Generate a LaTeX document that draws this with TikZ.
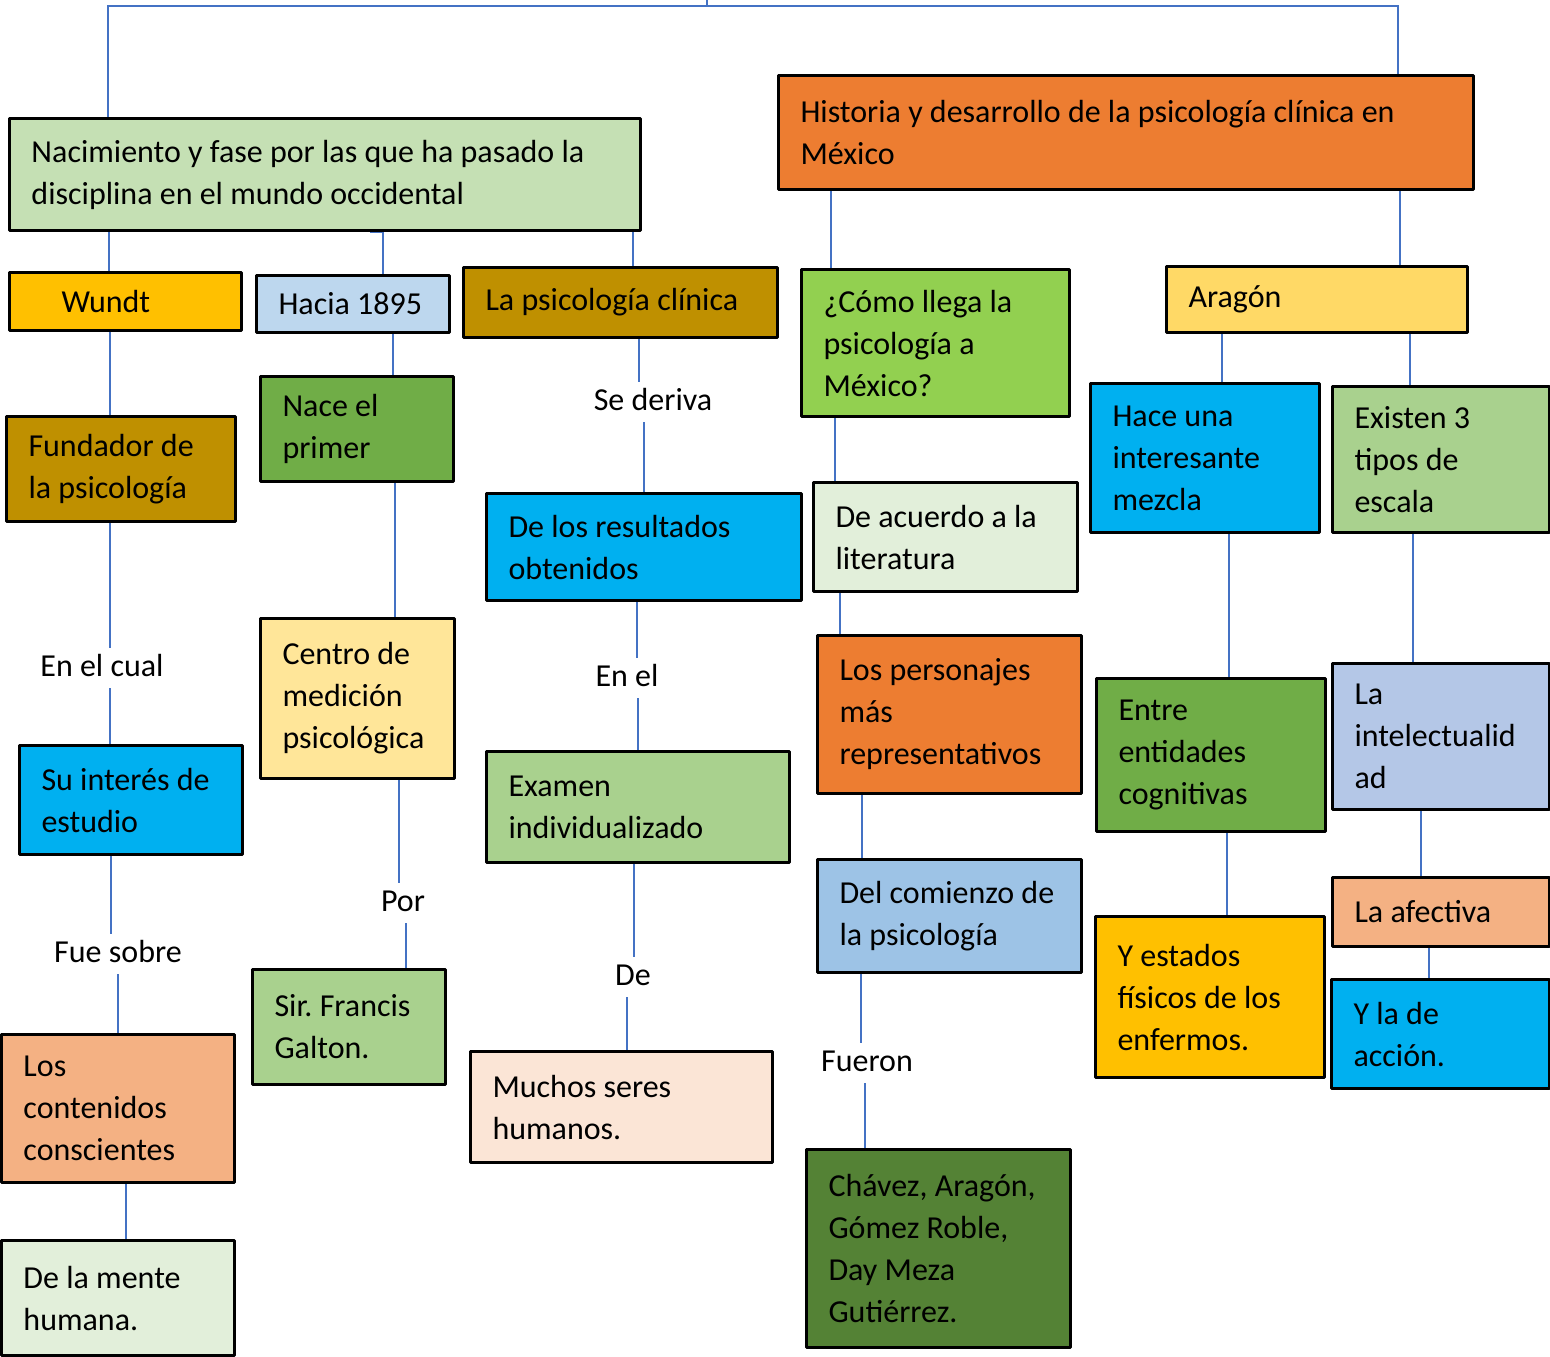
\documentclass[tikz,border=0pt]{standalone}
\usepackage{fontspec}
\setmainfont{Carlito}
\frenchspacing
\usepackage{xcolor}
\usetikzlibrary{backgrounds}
\definecolor{linkblue}{HTML}{4472C4}
\definecolor{mintgreen}{HTML}{C5E0B4}
\definecolor{orangebox}{HTML}{ED7D31}
\definecolor{goldbox}{HTML}{FFC000}
\definecolor{paleblue}{HTML}{BDD7EE}
\definecolor{ochre}{HTML}{BF9000}
\definecolor{cyanbox}{HTML}{00B0F0}
\definecolor{peach}{HTML}{F4B183}
\definecolor{palegreen}{HTML}{E2EFDA}
\definecolor{leafgreen}{HTML}{70AD47}
\definecolor{cream}{HTML}{FFE699}
\definecolor{sage}{HTML}{A9D18E}
\definecolor{blush}{HTML}{FBE5D6}
\definecolor{lime}{HTML}{92D050}
\definecolor{skyblue}{HTML}{9DC3E6}
\definecolor{forest}{HTML}{548235}
\definecolor{sunny}{HTML}{FFD966}
\definecolor{lavender}{HTML}{B4C7E7}

\tikzset{
  cbox/.style={draw=black,line width=1.5pt,fill=#1,anchor=north west,
    inner sep=0pt,align=flush left},
  linklabel/.style={inner xsep=2pt,inner ysep=2pt,text height=12pt,text depth=4pt},
  link/.style={draw=linkblue,line width=0.6pt}
}

\begin{document}
\begin{tikzpicture}[x=0.5pt,y=-0.5pt,line cap=round,line join=round,
    every node/.style={font=\fontsize{16}{21}\selectfont}]
  \useasboundingbox (0,0) rectangle (1550,1356);
  \coordinate (top) at (707,0);

  % left branch
  \node[cbox=mintgreen,minimum width=315.5pt,minimum height=56pt,text width=293.5pt] (nac) at (8,117)
    {Nacimiento y fase por las que ha pasado la\\disciplina en el mundo occidental};
  \node[cbox=goldbox,minimum width=116pt,minimum height=29pt,text width=94pt] (wundt) at (8,271)
    {\hspace*{15pt}Wundt};
  \node[cbox=paleblue,minimum width=96.5pt,minimum height=28.5pt,text width=74.5pt] (hacia) at (255,274)
    {Hacia~1895};
  \node[cbox=ochre,minimum width=157pt,minimum height=35pt,text width=135pt] (clinica) at (462,266)
    {La psicología clínica};
  \node[cbox=ochre,minimum width=114.5pt,minimum height=52.5pt,text width=92.5pt] (fundador) at (5,415)
    {Fundador de\\la psicología};
  \node[linklabel] (cual) at (102,668) {En el cual};
  \node[cbox=cyanbox,minimum width=111.5pt,minimum height=54.5pt,text width=89.5pt] (interes) at (18,744)
    {Su interés de\\estudio};
  \node[linklabel] (fue) at (118,954) {Fue sobre};
  \node[cbox=peach,minimum width=116.5pt,minimum height=74pt,text width=94.5pt] (contenidos) at (0,1033)
    {Los\\contenidos\\conscientes};
  \node[cbox=palegreen,minimum width=116.5pt,minimum height=57.5pt,text width=94.5pt] (mente) at (0,1239)
    {De la mente\\humana.};
  \node[cbox=leafgreen,minimum width=96.5pt,minimum height=52.5pt,text width=74.5pt] (nace) at (259,375)
    {Nace el\\primer};
  \node[cbox=cream,minimum width=97pt,minimum height=80pt,text width=75pt] (centro) at (259,617)
    {Centro de\\medición\\psicológica};
  \node[linklabel] (por) at (403,903) {Por};
  \node[cbox=sage,minimum width=96.5pt,minimum height=57.5pt,text width=74.5pt] (galton) at (251,968)
    {Sir. Francis\\Galton.};
  \node[linklabel] (deriva) at (653,402) {Se deriva};
  \node[cbox=cyanbox,minimum width=157.5pt,minimum height=53.5pt,text width=135.5pt] (resultados) at (485,492)
    {De los resultados\\obtenidos};
  \node[linklabel] (enel) at (627,678) {En el};
  \node[cbox=sage,minimum width=151.5pt,minimum height=55.5pt,text width=129.5pt] (examen) at (485,750)
    {Examen\\individualizado};
  \node[linklabel] (de) at (633,977) {De};
  \node[cbox=blush,minimum width=151pt,minimum height=55.5pt,text width=129pt] (seres) at (469,1050)
    {Muchos seres\\humanos.};

  % right branch
  \node[cbox=orangebox,minimum width=347.5pt,minimum height=57pt,text width=325.5pt] (historia) at (777,74)
    {Historia y desarrollo de la psicología clínica en\\México};
  \node[cbox=lime,minimum width=134pt,minimum height=73.5pt,text width=112pt] (como) at (800,268)
    {¿Cómo llega la\\psicología a\\México?};
  \node[cbox=palegreen,minimum width=132pt,minimum height=54.5pt,text width=110pt] (acuerdo) at (812,481)
    {De acuerdo a la\\literatura};
  \node[cbox=orangebox,minimum width=132pt,minimum height=79pt,text width=110pt] (personajes) at (816,634)
    {Los personajes\\más\\representativos};
  \node[cbox=skyblue,minimum width=132pt,minimum height=56.5pt,text width=110pt] (comienzo) at (816,858)
    {Del comienzo~de\\la psicología};
  \node[linklabel] (fueron) at (867,1063) {Fueron};
  \node[cbox=forest,minimum width=132pt,minimum height=99pt,text width=110pt] (nombres) at (805,1148)
    {Chávez, Aragón,\\Gómez Roble,\\Day Meza\\Gutiérrez.};
  \node[cbox=sunny,minimum width=150.5pt,minimum height=33pt,text width=128.5pt] (aragon) at (1165,265)
    {Aragón};
  \node[cbox=cyanbox,minimum width=114.5pt,minimum height=74.5pt,text width=92.5pt] (mezcla) at (1089,382)
    {Hace una\\interesante\\mezcla};
  \node[cbox=sage,minimum width=108.5pt,minimum height=73pt,text width=86.5pt] (escala) at (1331,385)
    {Existen 3\\tipos de\\escala};
  \node[cbox=leafgreen,minimum width=114.5pt,minimum height=76.5pt,text width=92.5pt] (entidades) at (1095,677)
    {Entre\\entidades\\cognitivas};
  \node[cbox=goldbox,minimum width=114.5pt,minimum height=80.5pt,text width=92.5pt] (estados) at (1094,915)
    {Y estados\\físicos de los\\enfermos.};
  \node[cbox=lavender,minimum width=108.5pt,minimum height=73pt,text width=86.5pt] (intelecto) at (1331,662)
    {La\\intelectualid\\ad};
  \node[cbox=peach,minimum width=108.5pt,minimum height=34.5pt,text width=86.5pt] (afectiva) at (1331,876)
    {La afectiva};
  \node[cbox=cyanbox,minimum width=109pt,minimum height=54.5pt,text width=87pt] (accion) at (1330,978)
    {Y la de\\acción.};

  \begin{scope}[on background layer]
    % top bracket
    \draw[link] (top) -- (707,6);
    \draw[link] (108,0 |- nac.north) -- (108,6) -- (1398,6) -- (1398,0 |- historia.north);
    % left branch
    \draw[link] (109,0 |- nac.south) -- (109,0 |- wundt.north);
    \draw[link] (370,0 |- nac.south) -- (383,0 |- nac.south) -- (383,0 |- hacia.north);
    \draw[link] (633,0 |- nac.south) -- (633,0 |- clinica.north);
    \draw[link] (110,0 |- wundt.south) -- (110,0 |- fundador.north);
    \draw[link] (110,0 |- fundador.south) -- (110,0 |- cual.north);
    \draw[link] (110,0 |- cual.south) -- (110,0 |- interes.north);
    \draw[link] (111,0 |- interes.south) -- (111,0 |- fue.north);
    \draw[link] (118,0 |- fue.south) -- (118,0 |- contenidos.north);
    \draw[link] (126,0 |- contenidos.south) -- (126,0 |- mente.north);
    \draw[link] (393,0 |- hacia.south) -- (393,0 |- nace.north);
    \draw[link] (395,0 |- nace.south) -- (395,0 |- centro.north);
    \draw[link] (399,0 |- centro.south) -- (399,0 |- por.north);
    \draw[link] (406,0 |- por.south) -- (406,0 |- galton.north);
    \draw[link] (639,0 |- clinica.south) -- (639,0 |- deriva.north);
    \draw[link] (644,0 |- deriva.south) -- (644,0 |- resultados.north);
    \draw[link] (664,601) -- (637,601) -- (637,0 |- enel.north);
    \draw[link] (638,0 |- enel.south) -- (638,0 |- examen.north);
    \draw[link] (634,0 |- examen.south) -- (634,0 |- de.north);
    \draw[link] (627,0 |- de.south) -- (627,0 |- seres.north);
    % right branch
    \draw[link] (831,0 |- historia.south) -- (831,0 |- como.north);
    \draw[link] (835,0 |- como.south) -- (835,0 |- acuerdo.north);
    \draw[link] (840,0 |- acuerdo.south) -- (840,0 |- personajes.north);
    \draw[link] (862,0 |- personajes.south) -- (862,0 |- comienzo.north);
    \draw[link] (892,967) -- (861,967) -- (861,0 |- fueron.north);
    \draw[link] (865,0 |- fueron.south) -- (865,0 |- nombres.north);
    \draw[link] (1400,0 |- historia.south) -- (1400,0 |- aragon.north);
    \draw[link] (1222,0 |- aragon.south) -- (1222,0 |- mezcla.north);
    \draw[link] (1410,0 |- aragon.south) -- (1410,0 |- escala.north);
    \draw[link] (1229,0 |- mezcla.south) -- (1229,0 |- entidades.north);
    \draw[link] (1227,0 |- entidades.south) -- (1227,0 |- estados.north);
    \draw[link] (1413,0 |- escala.south) -- (1413,0 |- intelecto.north);
    \draw[link] (1421,0 |- intelecto.south) -- (1421,0 |- afectiva.north);
    \draw[link] (1429,0 |- afectiva.south) -- (1429,0 |- accion.north);
  \end{scope}
\end{tikzpicture}
\end{document}
